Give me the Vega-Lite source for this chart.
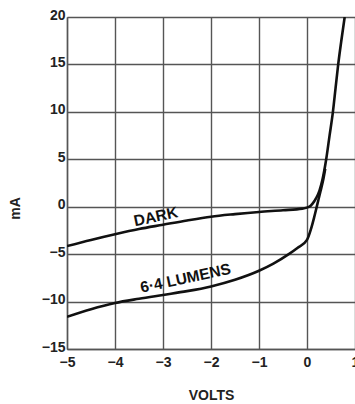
{
  "$schema": "https://vega.github.io/schema/vega-lite/v6.json",
  "width": 288,
  "height": 332,
  "autosize": "none",
  "padding": {"left": 67, "top": 17, "right": 0, "bottom": 55},
  "background": "white",
  "config": {
    "view": {"stroke": null},
    "font": "Liberation Sans",
    "axis": {
      "labelFont": "Liberation Sans",
      "labelFontWeight": "bold",
      "labelFontSize": 14,
      "labelColor": "#222",
      "titleFont": "Liberation Sans",
      "titleFontWeight": "bold",
      "titleFontSize": 14,
      "titleColor": "#222",
      "gridColor": "#555",
      "gridWidth": 1.4,
      "gridOpacity": 1,
      "domainColor": "#555",
      "domainWidth": 1.4,
      "ticks": false
    }
  },
  "datasets": {
    "curves": [
      {"series": "DARK", "volts": -5, "ma": -4.15},
      {"series": "DARK", "volts": -4.5, "ma": -3.5},
      {"series": "DARK", "volts": -4, "ma": -2.9},
      {"series": "DARK", "volts": -3.5, "ma": -2.35},
      {"series": "DARK", "volts": -3, "ma": -1.9},
      {"series": "DARK", "volts": -2.5, "ma": -1.45},
      {"series": "DARK", "volts": -2, "ma": -1.05},
      {"series": "DARK", "volts": -1.5, "ma": -0.78},
      {"series": "DARK", "volts": -1, "ma": -0.55},
      {"series": "DARK", "volts": -0.5, "ma": -0.37},
      {"series": "DARK", "volts": -0.1, "ma": -0.2},
      {"series": "DARK", "volts": 0.05, "ma": 0.0},
      {"series": "DARK", "volts": 0.12, "ma": 0.35},
      {"series": "DARK", "volts": 0.19, "ma": 0.9},
      {"series": "DARK", "volts": 0.26, "ma": 1.7},
      {"series": "DARK", "volts": 0.32, "ma": 2.8},
      {"series": "DARK", "volts": 0.4, "ma": 5},
      {"series": "DARK", "volts": 0.47, "ma": 7.5},
      {"series": "DARK", "volts": 0.54, "ma": 10},
      {"series": "DARK", "volts": 0.595, "ma": 12.5},
      {"series": "DARK", "volts": 0.65, "ma": 15},
      {"series": "DARK", "volts": 0.715, "ma": 17.5},
      {"series": "DARK", "volts": 0.785, "ma": 20},
      {"series": "LUMENS", "volts": -5, "ma": -11.6},
      {"series": "LUMENS", "volts": -4.5, "ma": -10.8},
      {"series": "LUMENS", "volts": -4, "ma": -10.15},
      {"series": "LUMENS", "volts": -3.5, "ma": -9.7},
      {"series": "LUMENS", "volts": -3, "ma": -9.3},
      {"series": "LUMENS", "volts": -2.5, "ma": -8.9},
      {"series": "LUMENS", "volts": -2, "ma": -8.4},
      {"series": "LUMENS", "volts": -1.5, "ma": -7.7},
      {"series": "LUMENS", "volts": -1, "ma": -6.75},
      {"series": "LUMENS", "volts": -0.7, "ma": -6.0},
      {"series": "LUMENS", "volts": -0.38, "ma": -5.0},
      {"series": "LUMENS", "volts": -0.2, "ma": -4.35},
      {"series": "LUMENS", "volts": 0, "ma": -3.5},
      {"series": "LUMENS", "volts": 0.08, "ma": -2.4},
      {"series": "LUMENS", "volts": 0.15, "ma": -1.1},
      {"series": "LUMENS", "volts": 0.22, "ma": 0.35},
      {"series": "LUMENS", "volts": 0.28, "ma": 1.6},
      {"series": "LUMENS", "volts": 0.34, "ma": 2.9},
      {"series": "LUMENS", "volts": 0.38, "ma": 4.0}
    ],
    "labels": [
      {"volts": -3.15, "ma": -1.05, "text": "DARK"},
      {"volts": -2.53, "ma": -7.55, "text": "6·4 LUMENS"}
    ]
  },
  "layer": [
    {
      "data": {"name": "curves"},
      "mark": {"type": "line", "color": "#111", "strokeWidth": 2.6, "interpolate": "monotone", "clip": true},
      "encoding": {
        "x": {
          "field": "volts", "type": "quantitative",
          "scale": {"domain": [-5, 1], "nice": false, "zero": false},
          "axis": {
            "values": [-5, -4, -3, -2, -1, 0, 1],
            "title": "VOLTS",
            "labelPadding": 6,
            "titleY": 46,
            "titleBaseline": "middle",
            "labelFlush": false
          }
        },
        "y": {
          "field": "ma", "type": "quantitative",
          "scale": {"domain": [-15, 20], "nice": false, "zero": false},
          "axis": {
            "values": [-15, -10, -5, 0, 5, 10, 15, 20],
            "title": "mA",
            "labelPadding": 2,
            "labelOffset": -2,
            "titleAngle": -90,
            "titleX": -52,
            "titleY": 191,
            "titleAlign": "center",
            "titleBaseline": "middle",
            "labelFlush": false
          }
        },
        "detail": {"field": "series"},
        "order": {"field": "volts", "type": "quantitative"}
      }
    },
    {
      "data": {"name": "labels"},
      "mark": {"type": "text", "angle": -12, "font": "Liberation Sans", "fontWeight": "bold", "fontSize": 15.5, "color": "#111", "align": "center", "baseline": "middle"},
      "encoding": {
        "x": {"field": "volts", "type": "quantitative"},
        "y": {"field": "ma", "type": "quantitative"},
        "text": {"field": "text"}
      }
    }
  ]
}
